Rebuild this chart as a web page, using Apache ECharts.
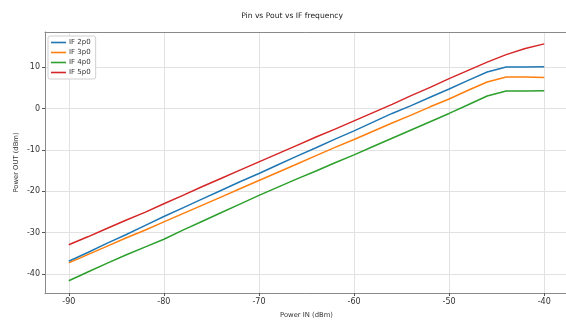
<!DOCTYPE html>
<html>
<head>
<meta charset="utf-8">
<script src="https://cdn.jsdelivr.net/npm/echarts@6/dist/echarts.min.js"></script>
<style>
  html, body { margin: 0; padding: 0; background: #fff; }
  #chart { width: 566px; height: 320px; }
</style>
</head>
<body>
<div id="chart"></div>
<script>
// Input power sweep (dBm)
const powerIn = [-90, -88, -86, -84, -82, -80, -78, -76, -74, -72, -70, -68, -66,
                 -64, -62, -60, -58, -56, -54, -52, -50, -48, -46, -44, -42, -40];

// Output power (dBm) for each IF frequency
const if2p0 = [-36.9, -34.8, -32.6, -30.5, -28.3, -26.1, -24.0, -21.9, -19.8, -17.7, -15.7, -13.6, -11.5,
               -9.5, -7.4, -5.4, -3.3, -1.2, 0.7, 2.7, 4.7, 6.8, 8.8, 10.0, 10.0, 10.1];
const if3p0 = [-37.3, -35.3, -33.3, -31.3, -29.4, -27.4, -25.4, -23.4, -21.4, -19.4, -17.4, -15.4, -13.4,
               -11.4, -9.4, -7.5, -5.5, -3.5, -1.6, 0.4, 2.3, 4.4, 6.4, 7.6, 7.6, 7.5];
const if4p0 = [-41.6, -39.5, -37.4, -35.4, -33.5, -31.6, -29.4, -27.3, -25.2, -23.1, -21.0, -19.0, -17.0,
               -15.1, -13.1, -11.2, -9.2, -7.2, -5.2, -3.2, -1.2, 0.9, 3.0, 4.2, 4.2, 4.3];
const if5p0 = [-32.9, -31.0, -29.0, -27.0, -25.1, -23.0, -21.0, -18.9, -16.9, -14.9, -12.9, -10.9, -8.9,
               -6.9, -5.0, -3.0, -1.0, 1.0, 3.1, 5.1, 7.2, 9.2, 11.2, 13.0, 14.5, 15.6];

const seriesNames = ['IF 2p0', 'IF 3p0', 'IF 4p0', 'IF 5p0'];
const seriesData = [if2p0, if3p0, if4p0, if5p0];
const colors = ['#1f77b4', '#ff7f0e', '#2ca02c', '#d62728'];

const xTicks = [-90, -80, -70, -60, -50, -40];
const yTicks = [-40, -30, -20, -10, 0, 10];

const font = 'DejaVu Sans';
const spine = '#8a8a8a';

const chart = echarts.init(document.getElementById('chart'), null, { renderer: 'canvas' });

chart.setOption({
  animation: false,
  backgroundColor: '#fff',
  color: colors,
  title: {
    text: 'Pin vs Pout vs IF frequency',
    left: 287, top: 7,
    textAlign: 'center',
    textStyle: { fontFamily: font, fontSize: 7.6, fontWeight: 'normal', color: '#222' }
  },
  legend: {
    orient: 'vertical',
    left: 48, top: 36,
    data: seriesNames,
    icon: 'rect',
    itemWidth: 15, itemHeight: 1.6,
    itemGap: 3,
    padding: [3, 5, 3, 3],
    borderColor: '#d0d0d0', borderWidth: 1, borderRadius: 2,
    backgroundColor: '#fff',
    textStyle: { fontFamily: font, fontSize: 7, color: '#333', padding: [0, 0, 0, -2] }
  },
  grid: {
    left: 45, right: -2, top: 32, bottom: 27,
    outerBoundsMode: 'none',
    containLabel: false,
    show: false
  },
  xAxis: [{
    type: 'value',
    min: -92.5, max: -37.5,
    name: 'Power IN (dBm)',
    nameLocation: 'middle', nameGap: 19,
    nameMoveOverlap: false,
    nameTextStyle: { fontFamily: font, fontSize: 6.8, color: '#333' },
    axisLine: { onZero: false, lineStyle: { color: spine, width: 1 } },
    axisTick: { show: true, length: 3, customValues: xTicks, lineStyle: { color: '#555' } },
    axisLabel: { customValues: xTicks, fontFamily: font, fontSize: 8, color: '#333', margin: 5 },
    splitLine: { show: true, lineStyle: { color: '#e2e2e2', width: 1 } }
  }, {
    // top spine of the plot frame
    type: 'value',
    position: 'top',
    min: -92.5, max: -37.5,
    axisLine: { show: true, onZero: false, lineStyle: { color: spine, width: 1 } },
    axisTick: { show: false },
    axisLabel: { show: false },
    splitLine: { show: false }
  }],
  yAxis: {
    type: 'value',
    min: -44.57, max: 18.47,
    name: 'Power OUT (dBm)',
    nameLocation: 'middle', nameGap: 25,
    nameMoveOverlap: false,
    nameTextStyle: { fontFamily: font, fontSize: 6.8, color: '#333' },
    axisLine: { show: true, onZero: false, lineStyle: { color: spine, width: 1 } },
    axisTick: { show: true, length: 3, customValues: yTicks, lineStyle: { color: '#555' } },
    axisLabel: { customValues: yTicks, fontFamily: font, fontSize: 8, color: '#333', margin: 5 },
    splitLine: { show: true, lineStyle: { color: '#e2e2e2', width: 1 } }
  },
  series: seriesNames.map((name, i) => ({
    name,
    type: 'line',
    xAxisIndex: 0,
    data: powerIn.map((x, j) => [x, seriesData[i][j]]),
    showSymbol: false,
    symbol: 'none',
    lineStyle: { width: 1.5, color: colors[i] },
    itemStyle: { color: colors[i] }
  }))
});
</script>
</body>
</html>
